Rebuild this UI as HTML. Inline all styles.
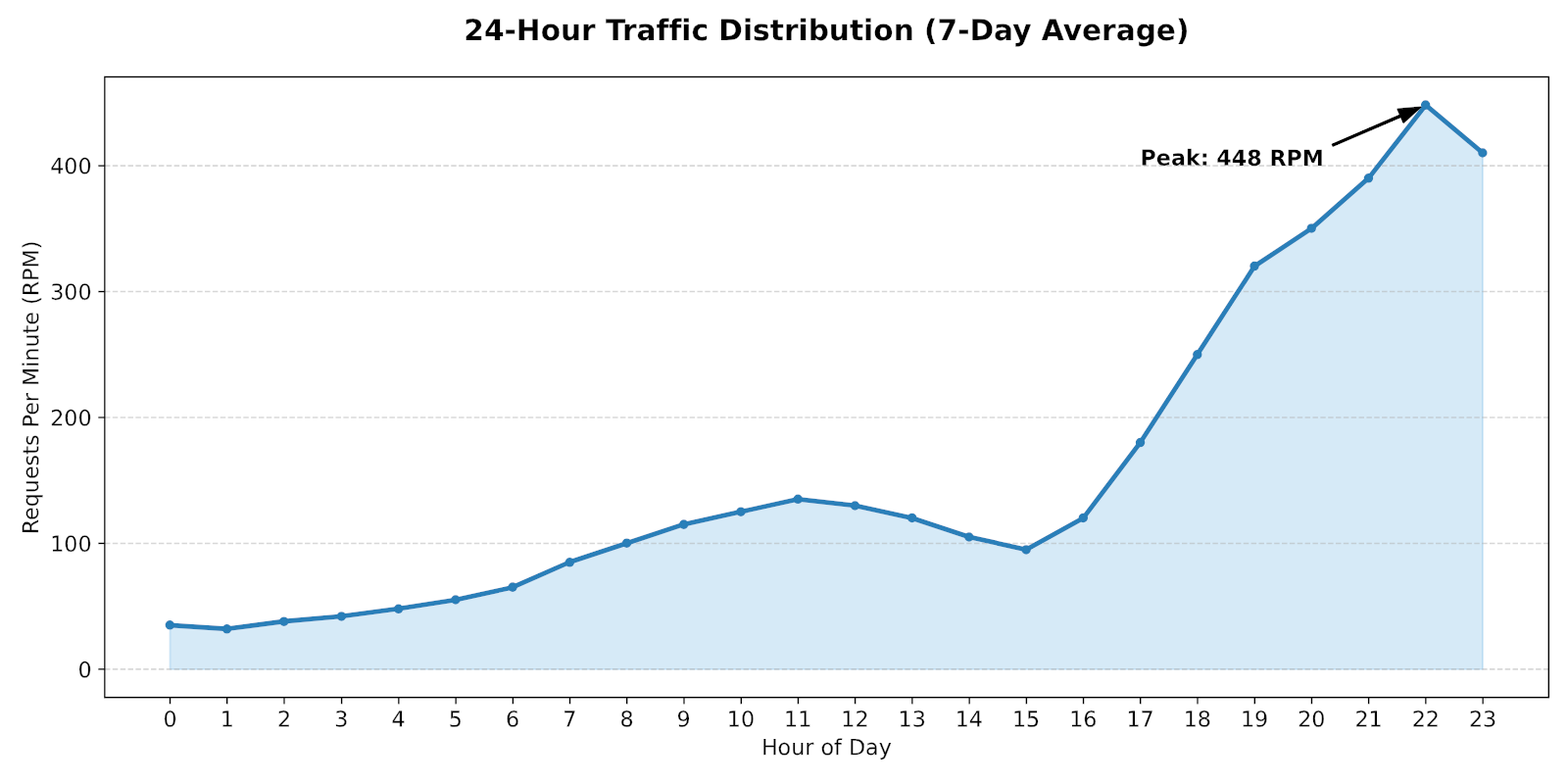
<!DOCTYPE html>
<html lang="en">
<head>
<meta charset="utf-8">
<title>24-Hour Traffic Distribution (7-Day Average)</title>
<style>
html,body{margin:0;padding:0;background:#fff;}
body{width:1600px;height:800px;overflow:hidden;}
svg{display:block;}
text{font-family:"DejaVu Sans","Liberation Sans",sans-serif;fill:#000;font-variant-ligatures:none;text-rendering:geometricPrecision;}
.tick{font-size:22.22px;stroke:#000;stroke-width:0.15;}
.axlabel{font-size:22.22px;stroke:#000;stroke-width:0.15;}
.title{font-size:29.63px;font-weight:700;stroke:#000;stroke-width:0.12;}
.ann{font-size:22.22px;font-weight:700;stroke:#000;stroke-width:0.03;}
.grid line{stroke:#767676;stroke-opacity:0.589;stroke-width:1.57;stroke-dasharray:5.48,2.37;}
.ticks line{stroke:#000;stroke-width:1.67;}
.spines{fill:none;stroke:#000;stroke-width:1.67;stroke-linejoin:miter;}
.area{fill:#acd3ef;stroke:#acd3ef;stroke-width:1.85;stroke-linejoin:round;}
.area-edge{fill:none;stroke:#77b3e3;stroke-width:1.85;stroke-linejoin:round;}
.series{fill:none;stroke:#06377c;stroke-width:4.85;stroke-linejoin:round;stroke-linecap:square;}
.dots circle{fill:#06377c;stroke:#06377c;stroke-width:2.13;}
.arrow{fill:#000;stroke:#000;stroke-width:1.85;stroke-linejoin:round;}
</style>
</head>
<body>
<!-- Chart drawn as inline SVG. Colours inside the filtered group are linear-light values; filter #tosrgb encodes them to sRGB so edge anti-aliasing blends the way the reference does. -->
<svg width="1600" height="800" viewBox="0 0 1600 800" role="img" aria-label="24-Hour Traffic Distribution (7-Day Average)">
<defs>
<clipPath id="plot"><rect x="106.54" y="78.37" width="1473.46" height="633.26"/></clipPath>
<clipPath id="inside-area"><polygon points="173.51,682.85 173.51,637.87 231.75,641.72 289.99,634.01 348.23,628.87 406.47,621.16 464.71,612.17 522.95,599.32 581.19,573.62 639.43,554.34 697.67,535.07 755.91,522.22 814.15,509.37 872.39,515.79 930.63,528.64 988.87,547.92 1047.11,560.77 1105.35,528.64 1163.59,451.54 1221.83,361.59 1280.07,271.64 1338.31,233.09 1396.55,181.69 1454.78,107.15 1513.02,155.99 1513.02,682.85"/></clipPath>
<filter id="tosrgb" x="0" y="0" width="1600" height="800" filterUnits="userSpaceOnUse" color-interpolation-filters="sRGB">
<feComponentTransfer>
<feFuncR type="table" tableValues="0 0.0498 0.0849 0.1107 0.1318 0.15 0.1662 0.1809 0.1944 0.2069 0.2186 0.2297 0.2402 0.2503 0.2598 0.269 0.2778 0.2864 0.2946 0.3026 0.3103 0.3178 0.3251 0.3322 0.3391 0.3459 0.3525 0.3589 0.3653 0.3714 0.3775 0.3835 0.3893 0.395 0.4007 0.4062 0.4116 0.417 0.4223 0.4275 0.4326 0.4376 0.4426 0.4475 0.4523 0.4571 0.4618 0.4665 0.4711 0.4756 0.4801 0.4845 0.4889 0.4932 0.4975 0.5018 0.506 0.5101 0.5142 0.5183 0.5223 0.5263 0.5303 0.5342 0.5381 0.5419 0.5457 0.5495 0.5532 0.5569 0.5606 0.5643 0.5679 0.5715 0.575 0.5786 0.5821 0.5856 0.589 0.5924 0.5959 0.5992 0.6026 0.6059 0.6092 0.6125 0.6158 0.619 0.6222 0.6254 0.6286 0.6317 0.6349 0.638 0.6411 0.6442 0.6472 0.6503 0.6533 0.6563 0.6593 0.6622 0.6652 0.6681 0.671 0.6739 0.6768 0.6797 0.6825 0.6854 0.6882 0.691 0.6938 0.6966 0.6993 0.7021 0.7048 0.7076 0.7103 0.713 0.7156 0.7183 0.721 0.7236 0.7262 0.7289 0.7315 0.7341 0.7366 0.7392 0.7418 0.7443 0.7469 0.7494 0.7519 0.7544 0.7569 0.7594 0.7619 0.7643 0.7668 0.7692 0.7716 0.7741 0.7765 0.7789 0.7813 0.7836 0.786 0.7884 0.7907 0.7931 0.7954 0.7977 0.8001 0.8024 0.8047 0.807 0.8092 0.8115 0.8138 0.816 0.8183 0.8205 0.8228 0.825 0.8272 0.8294 0.8316 0.8338 0.836 0.8382 0.8404 0.8425 0.8447 0.8468 0.849 0.8511 0.8532 0.8554 0.8575 0.8596 0.8617 0.8638 0.8659 0.868 0.87 0.8721 0.8742 0.8762 0.8783 0.8803 0.8824 0.8844 0.8864 0.8884 0.8904 0.8924 0.8944 0.8964 0.8984 0.9004 0.9024 0.9044 0.9063 0.9083 0.9102 0.9122 0.9141 0.9161 0.918 0.9199 0.9219 0.9238 0.9257 0.9276 0.9295 0.9314 0.9333 0.9352 0.9371 0.9389 0.9408 0.9427 0.9445 0.9464 0.9482 0.9501 0.9519 0.9538 0.9556 0.9574 0.9593 0.9611 0.9629 0.9647 0.9665 0.9683 0.9701 0.9719 0.9737 0.9755 0.9772 0.979 0.9808 0.9826 0.9843 0.9861 0.9878 0.9896 0.9913 0.9931 0.9948 0.9965 0.9983 1"/>
<feFuncG type="table" tableValues="0 0.0498 0.0849 0.1107 0.1318 0.15 0.1662 0.1809 0.1944 0.2069 0.2186 0.2297 0.2402 0.2503 0.2598 0.269 0.2778 0.2864 0.2946 0.3026 0.3103 0.3178 0.3251 0.3322 0.3391 0.3459 0.3525 0.3589 0.3653 0.3714 0.3775 0.3835 0.3893 0.395 0.4007 0.4062 0.4116 0.417 0.4223 0.4275 0.4326 0.4376 0.4426 0.4475 0.4523 0.4571 0.4618 0.4665 0.4711 0.4756 0.4801 0.4845 0.4889 0.4932 0.4975 0.5018 0.506 0.5101 0.5142 0.5183 0.5223 0.5263 0.5303 0.5342 0.5381 0.5419 0.5457 0.5495 0.5532 0.5569 0.5606 0.5643 0.5679 0.5715 0.575 0.5786 0.5821 0.5856 0.589 0.5924 0.5959 0.5992 0.6026 0.6059 0.6092 0.6125 0.6158 0.619 0.6222 0.6254 0.6286 0.6317 0.6349 0.638 0.6411 0.6442 0.6472 0.6503 0.6533 0.6563 0.6593 0.6622 0.6652 0.6681 0.671 0.6739 0.6768 0.6797 0.6825 0.6854 0.6882 0.691 0.6938 0.6966 0.6993 0.7021 0.7048 0.7076 0.7103 0.713 0.7156 0.7183 0.721 0.7236 0.7262 0.7289 0.7315 0.7341 0.7366 0.7392 0.7418 0.7443 0.7469 0.7494 0.7519 0.7544 0.7569 0.7594 0.7619 0.7643 0.7668 0.7692 0.7716 0.7741 0.7765 0.7789 0.7813 0.7836 0.786 0.7884 0.7907 0.7931 0.7954 0.7977 0.8001 0.8024 0.8047 0.807 0.8092 0.8115 0.8138 0.816 0.8183 0.8205 0.8228 0.825 0.8272 0.8294 0.8316 0.8338 0.836 0.8382 0.8404 0.8425 0.8447 0.8468 0.849 0.8511 0.8532 0.8554 0.8575 0.8596 0.8617 0.8638 0.8659 0.868 0.87 0.8721 0.8742 0.8762 0.8783 0.8803 0.8824 0.8844 0.8864 0.8884 0.8904 0.8924 0.8944 0.8964 0.8984 0.9004 0.9024 0.9044 0.9063 0.9083 0.9102 0.9122 0.9141 0.9161 0.918 0.9199 0.9219 0.9238 0.9257 0.9276 0.9295 0.9314 0.9333 0.9352 0.9371 0.9389 0.9408 0.9427 0.9445 0.9464 0.9482 0.9501 0.9519 0.9538 0.9556 0.9574 0.9593 0.9611 0.9629 0.9647 0.9665 0.9683 0.9701 0.9719 0.9737 0.9755 0.9772 0.979 0.9808 0.9826 0.9843 0.9861 0.9878 0.9896 0.9913 0.9931 0.9948 0.9965 0.9983 1"/>
<feFuncB type="table" tableValues="0 0.0498 0.0849 0.1107 0.1318 0.15 0.1662 0.1809 0.1944 0.2069 0.2186 0.2297 0.2402 0.2503 0.2598 0.269 0.2778 0.2864 0.2946 0.3026 0.3103 0.3178 0.3251 0.3322 0.3391 0.3459 0.3525 0.3589 0.3653 0.3714 0.3775 0.3835 0.3893 0.395 0.4007 0.4062 0.4116 0.417 0.4223 0.4275 0.4326 0.4376 0.4426 0.4475 0.4523 0.4571 0.4618 0.4665 0.4711 0.4756 0.4801 0.4845 0.4889 0.4932 0.4975 0.5018 0.506 0.5101 0.5142 0.5183 0.5223 0.5263 0.5303 0.5342 0.5381 0.5419 0.5457 0.5495 0.5532 0.5569 0.5606 0.5643 0.5679 0.5715 0.575 0.5786 0.5821 0.5856 0.589 0.5924 0.5959 0.5992 0.6026 0.6059 0.6092 0.6125 0.6158 0.619 0.6222 0.6254 0.6286 0.6317 0.6349 0.638 0.6411 0.6442 0.6472 0.6503 0.6533 0.6563 0.6593 0.6622 0.6652 0.6681 0.671 0.6739 0.6768 0.6797 0.6825 0.6854 0.6882 0.691 0.6938 0.6966 0.6993 0.7021 0.7048 0.7076 0.7103 0.713 0.7156 0.7183 0.721 0.7236 0.7262 0.7289 0.7315 0.7341 0.7366 0.7392 0.7418 0.7443 0.7469 0.7494 0.7519 0.7544 0.7569 0.7594 0.7619 0.7643 0.7668 0.7692 0.7716 0.7741 0.7765 0.7789 0.7813 0.7836 0.786 0.7884 0.7907 0.7931 0.7954 0.7977 0.8001 0.8024 0.8047 0.807 0.8092 0.8115 0.8138 0.816 0.8183 0.8205 0.8228 0.825 0.8272 0.8294 0.8316 0.8338 0.836 0.8382 0.8404 0.8425 0.8447 0.8468 0.849 0.8511 0.8532 0.8554 0.8575 0.8596 0.8617 0.8638 0.8659 0.868 0.87 0.8721 0.8742 0.8762 0.8783 0.8803 0.8824 0.8844 0.8864 0.8884 0.8904 0.8924 0.8944 0.8964 0.8984 0.9004 0.9024 0.9044 0.9063 0.9083 0.9102 0.9122 0.9141 0.9161 0.918 0.9199 0.9219 0.9238 0.9257 0.9276 0.9295 0.9314 0.9333 0.9352 0.9371 0.9389 0.9408 0.9427 0.9445 0.9464 0.9482 0.9501 0.9519 0.9538 0.9556 0.9574 0.9593 0.9611 0.9629 0.9647 0.9665 0.9683 0.9701 0.9719 0.9737 0.9755 0.9772 0.979 0.9808 0.9826 0.9843 0.9861 0.9878 0.9896 0.9913 0.9931 0.9948 0.9965 0.9983 1"/>
</feComponentTransfer>
</filter>
</defs>
<g filter="url(#tosrgb)">
<rect width="1600" height="800" fill="#ffffff"/>
<g clip-path="url(#plot)">
<polygon class="area" points="173.51,682.85 173.51,637.87 231.75,641.72 289.99,634.01 348.23,628.87 406.47,621.16 464.71,612.17 522.95,599.32 581.19,573.62 639.43,554.34 697.67,535.07 755.91,522.22 814.15,509.37 872.39,515.79 930.63,528.64 988.87,547.92 1047.11,560.77 1105.35,528.64 1163.59,451.54 1221.83,361.59 1280.07,271.64 1338.31,233.09 1396.55,181.69 1454.78,107.15 1513.02,155.99 1513.02,682.85"/>
<polygon class="area-edge" clip-path="url(#inside-area)" points="173.51,682.85 173.51,637.87 231.75,641.72 289.99,634.01 348.23,628.87 406.47,621.16 464.71,612.17 522.95,599.32 581.19,573.62 639.43,554.34 697.67,535.07 755.91,522.22 814.15,509.37 872.39,515.79 930.63,528.64 988.87,547.92 1047.11,560.77 1105.35,528.64 1163.59,451.54 1221.83,361.59 1280.07,271.64 1338.31,233.09 1396.55,181.69 1454.78,107.15 1513.02,155.99 1513.02,682.85"/>
</g>
<g class="grid" clip-path="url(#plot)">
<line x1="106.98" y1="682.89" x2="1580.22" y2="682.89"/>
<line x1="106.98" y1="554.44" x2="1580.22" y2="554.44"/>
<line x1="106.98" y1="426.00" x2="1580.22" y2="426.00"/>
<line x1="106.98" y1="297.56" x2="1580.22" y2="297.56"/>
<line x1="106.98" y1="169.11" x2="1580.22" y2="169.11"/>
</g>
<g class="ticks">
<line x1="173.56" y1="711.78" x2="173.56" y2="718.44"/>
<line x1="231.78" y1="711.78" x2="231.78" y2="718.44"/>
<line x1="290.00" y1="711.78" x2="290.00" y2="718.44"/>
<line x1="348.67" y1="711.78" x2="348.67" y2="718.44"/>
<line x1="406.89" y1="711.78" x2="406.89" y2="718.44"/>
<line x1="465.11" y1="711.78" x2="465.11" y2="718.44"/>
<line x1="523.33" y1="711.78" x2="523.33" y2="718.44"/>
<line x1="581.56" y1="711.78" x2="581.56" y2="718.44"/>
<line x1="639.78" y1="711.78" x2="639.78" y2="718.44"/>
<line x1="698.00" y1="711.78" x2="698.00" y2="718.44"/>
<line x1="756.22" y1="711.78" x2="756.22" y2="718.44"/>
<line x1="814.44" y1="711.78" x2="814.44" y2="718.44"/>
<line x1="872.67" y1="711.78" x2="872.67" y2="718.44"/>
<line x1="930.89" y1="711.78" x2="930.89" y2="718.44"/>
<line x1="989.11" y1="711.78" x2="989.11" y2="718.44"/>
<line x1="1047.33" y1="711.78" x2="1047.33" y2="718.44"/>
<line x1="1105.56" y1="711.78" x2="1105.56" y2="718.44"/>
<line x1="1163.78" y1="711.78" x2="1163.78" y2="718.44"/>
<line x1="1222.00" y1="711.78" x2="1222.00" y2="718.44"/>
<line x1="1280.22" y1="711.78" x2="1280.22" y2="718.44"/>
<line x1="1338.44" y1="711.78" x2="1338.44" y2="718.44"/>
<line x1="1396.67" y1="711.78" x2="1396.67" y2="718.44"/>
<line x1="1454.89" y1="711.78" x2="1454.89" y2="718.44"/>
<line x1="1513.11" y1="711.78" x2="1513.11" y2="718.44"/>
<line x1="100.22" y1="682.89" x2="106.89" y2="682.89"/>
<line x1="100.22" y1="554.44" x2="106.89" y2="554.44"/>
<line x1="100.22" y1="426.00" x2="106.89" y2="426.00"/>
<line x1="100.22" y1="297.56" x2="106.89" y2="297.56"/>
<line x1="100.22" y1="169.11" x2="106.89" y2="169.11"/>
</g>
<g class="tick" text-anchor="middle">
<text x="173.53" y="741.48" transform="rotate(0.05 173.53 741.48)">0</text>
<text x="231.77" y="741.48" transform="rotate(0.05 231.77 741.48)">1</text>
<text x="290.01" y="741.48" transform="rotate(0.05 290.01 741.48)">2</text>
<text x="348.25" y="741.48" transform="rotate(0.05 348.25 741.48)">3</text>
<text x="406.49" y="741.48" transform="rotate(0.05 406.49 741.48)">4</text>
<text x="464.73" y="741.48" transform="rotate(0.05 464.73 741.48)">5</text>
<text x="522.97" y="741.48" transform="rotate(0.05 522.97 741.48)">6</text>
<text x="581.21" y="741.48" transform="rotate(0.05 581.21 741.48)">7</text>
<text x="639.45" y="741.48" transform="rotate(0.05 639.45 741.48)">8</text>
<text x="697.69" y="741.48" transform="rotate(0.05 697.69 741.48)">9</text>
<text x="755.93" y="741.48" transform="rotate(0.05 755.93 741.48)">10</text>
<text x="814.17" y="741.48" transform="rotate(0.05 814.17 741.48)">11</text>
<text x="872.41" y="741.48" transform="rotate(0.05 872.41 741.48)">12</text>
<text x="930.65" y="741.48" transform="rotate(0.05 930.65 741.48)">13</text>
<text x="988.89" y="741.48" transform="rotate(0.05 988.89 741.48)">14</text>
<text x="1047.13" y="741.48" transform="rotate(0.05 1047.13 741.48)">15</text>
<text x="1105.37" y="741.48" transform="rotate(0.05 1105.37 741.48)">16</text>
<text x="1163.61" y="741.48" transform="rotate(0.05 1163.61 741.48)">17</text>
<text x="1221.85" y="741.48" transform="rotate(0.05 1221.85 741.48)">18</text>
<text x="1280.09" y="741.48" transform="rotate(0.05 1280.09 741.48)">19</text>
<text x="1338.33" y="741.48" transform="rotate(0.05 1338.33 741.48)">20</text>
<text x="1396.57" y="741.48" transform="rotate(0.05 1396.57 741.48)">21</text>
<text x="1454.80" y="741.48" transform="rotate(0.05 1454.80 741.48)">22</text>
<text x="1513.04" y="741.48" transform="rotate(0.05 1513.04 741.48)">23</text>
</g>
<g class="tick" text-anchor="end">
<text x="93.57" y="691.29" transform="rotate(0.05 93.57 691.29)">0</text>
<text x="93.57" y="562.79" transform="rotate(0.05 93.57 562.79)">100</text>
<text x="93.57" y="434.28" transform="rotate(0.05 93.57 434.28)">200</text>
<text x="93.57" y="305.78" transform="rotate(0.05 93.57 305.78)">300</text>
<text x="93.57" y="177.28" transform="rotate(0.05 93.57 177.28)">400</text>
</g>
<text class="axlabel" text-anchor="middle" x="843.37" y="770.19" transform="rotate(0.05 843.37 770.19)">Hour of Day</text>
<text class="axlabel" text-anchor="middle" x="39.21" y="395.52" transform="rotate(-89.95 39.21 395.52)">Requests Per Minute (RPM)</text>
<g clip-path="url(#plot)">
<polyline class="series" points="173.51,637.87 231.75,641.72 289.99,634.01 348.23,628.87 406.47,621.16 464.71,612.17 522.95,599.32 581.19,573.62 639.43,554.34 697.67,535.07 755.91,522.22 814.15,509.37 872.39,515.79 930.63,528.64 988.87,547.92 1047.11,560.77 1105.35,528.64 1163.59,451.54 1221.83,361.59 1280.07,271.64 1338.31,233.09 1396.55,181.69 1454.78,107.15 1513.02,155.99"/>
<g class="dots">
<circle cx="173.33" cy="637.78" r="3.70"/>
<circle cx="231.56" cy="641.78" r="3.70"/>
<circle cx="289.78" cy="634.22" r="3.70"/>
<circle cx="348.44" cy="628.89" r="3.70"/>
<circle cx="406.67" cy="621.33" r="3.70"/>
<circle cx="464.89" cy="612.00" r="3.70"/>
<circle cx="523.11" cy="599.11" r="3.70"/>
<circle cx="581.33" cy="573.78" r="3.70"/>
<circle cx="639.56" cy="554.22" r="3.70"/>
<circle cx="697.78" cy="535.11" r="3.70"/>
<circle cx="756.00" cy="522.22" r="3.70"/>
<circle cx="814.22" cy="509.33" r="3.70"/>
<circle cx="872.44" cy="516.00" r="3.70"/>
<circle cx="930.67" cy="528.44" r="3.70"/>
<circle cx="988.89" cy="548.00" r="3.70"/>
<circle cx="1047.11" cy="560.89" r="3.70"/>
<circle cx="1105.33" cy="528.44" r="3.70"/>
<circle cx="1163.56" cy="451.56" r="3.70"/>
<circle cx="1221.78" cy="361.78" r="3.70"/>
<circle cx="1280.00" cy="271.56" r="3.70"/>
<circle cx="1338.22" cy="232.89" r="3.70"/>
<circle cx="1396.44" cy="181.78" r="3.70"/>
<circle cx="1454.67" cy="107.11" r="3.70"/>
<circle cx="1512.89" cy="156.00" r="3.70"/>
</g>
</g>
<rect class="spines" x="106.89" y="78.44" width="1473.33" height="633.33"/>
<path class="arrow" d="M1359.51 147.26 L1428.83 117.35 L1426.26 111.39 L1449.60 109.39 L1432.13 125.00 L1429.57 119.05 L1360.24 148.96 Z"/>
<text class="ann" x="1163.59" y="168.80" transform="rotate(0.05 1163.59 168.80)">Peak: 448 RPM</text>
<text class="title" text-anchor="middle" x="843.41" y="41.33">24-Hour Traffic Distribution (7-Day Average)</text>
</g>
</svg>
</body>
</html>
